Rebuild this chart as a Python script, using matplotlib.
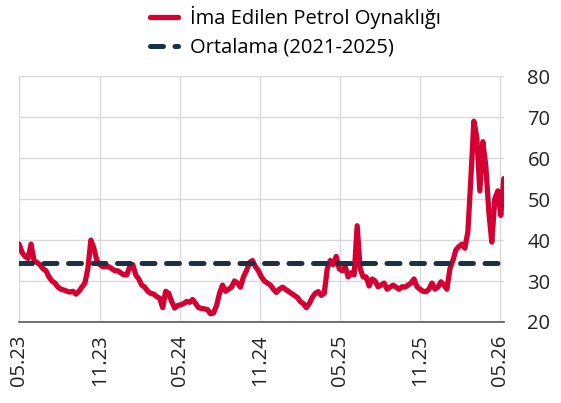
import numpy as np
import pandas as pd
import matplotlib
matplotlib.use("Agg")
import matplotlib.pyplot as plt
import matplotlib.dates as mdates

plt.rcParams['font.family'] = ['Open Sans', 'DejaVu Sans']

# ------------------------------------------------------------
# Veri (grafikten okunan yaklaşık haftalık değerler)
# ------------------------------------------------------------
start_date = "2023-05-01"
end_date = "2026-05-10"

oynaklik = [
    39, 37, 36, 35.5, 39, 35, 34.5, 34, 33, 32.5,
    31, 30, 29.5, 28.5, 28, 27.8, 27.5, 27.3, 27.5, 26.8,
    27.5, 28.5, 29.5, 33, 40, 38, 35, 34, 33.5, 33.5,
    33.5, 33, 32.5, 32.5, 32, 31.5, 31.5, 33.5, 34, 31.5,
    30.5, 29, 28.5, 27.5, 27, 26.8, 26.2, 25.8, 23.5, 27.5,
    27, 25, 23.4, 24, 24.2, 24.5, 25, 24.8, 25.5, 24.5,
    23.5, 23.3, 23.2, 23, 22, 22.2, 24, 27, 29, 27.5,
    28, 28.5, 30, 29.5, 28.5, 31, 32.5, 34.5, 35, 33.5,
    32.5, 31, 30, 29.5, 29, 28, 27.2, 28, 28.5, 28,
    27.5, 27, 26.5, 26, 25, 24.5, 23.5, 24.5, 26, 27,
    27.4, 26.5, 27, 33, 35, 34, 36, 33, 32.5, 33.5,
    31, 32, 31.5, 43.5, 33, 31, 31, 28.8, 30.5, 30,
    28.6, 29, 29.5, 28, 28.5, 29, 28.5, 28, 28.6, 28.5,
    29, 29.5, 30.5, 28.6, 28, 27.5, 27.4, 28, 29.5, 28,
    28.5, 29.8, 29, 28, 33, 35, 37.6, 38.4, 39, 38,
    42, 55, 69, 65, 52, 64, 58, 47, 39.5, 50,
    52, 46, 55,
]

ortalama = 34.4

x_tick_dates = ["2023-05-01", "2023-11-01", "2024-05-01", "2024-11-01",
                "2025-05-01", "2025-11-01", "2026-05-01"]
x_tick_labels = ["05.23", "11.23", "05.24", "11.24", "05.25", "11.25", "05.26"]
y_ticks = [20, 30, 40, 50, 60, 70, 80]

# ------------------------------------------------------------
# Çizim
# ------------------------------------------------------------
dates = pd.date_range(start_date, end_date, periods=len(oynaklik))

fig = plt.figure(figsize=(5.61, 4.03), dpi=100)
ax = fig.add_axes([0.034, 0.201, 0.864, 0.610])

red = '#D50032'
navy = '#1C3144'

ax.plot(dates, oynaklik, color=red, linewidth=3.8,
        solid_joinstyle='round', solid_capstyle='round',
        label='İma Edilen Petrol Oynaklığı', zorder=3)
ax.plot([dates[0], dates[-1]], [ortalama, ortalama], color=navy,
        linewidth=3.6, linestyle=(0, (2.6, 2.3)), dash_capstyle='round',
        label='Ortalama (2021-2025)', zorder=4)

ax.set_xlim(dates[0], dates[-1])
ax.set_ylim(20, 80)
ax.set_yticks(y_ticks)
ax.set_xticks(pd.to_datetime(x_tick_dates))
ax.set_xticklabels(x_tick_labels, rotation=90)

ax.yaxis.tick_right()
ax.tick_params(axis='both', length=0, labelsize=14.5, colors='#222222')
ax.tick_params(axis='y', pad=17)
ax.tick_params(axis='x', pad=9)

ax.grid(True, color='#D9D9D9', linewidth=1.0)
ax.set_axisbelow(True)
for side in ['top', 'right', 'left']:
    ax.spines[side].set_visible(False)
ax.spines['bottom'].set_color('#595959')
ax.spines['bottom'].set_linewidth(1.2)

ax.legend(loc='lower left', bbox_to_anchor=(0.27, 1.075), ncol=1,
          frameon=False, fontsize=14.5, handlelength=1.4, handletextpad=0.6,
          labelspacing=0.45, borderpad=0, borderaxespad=0)

fig.savefig('out.png', dpi=100)
